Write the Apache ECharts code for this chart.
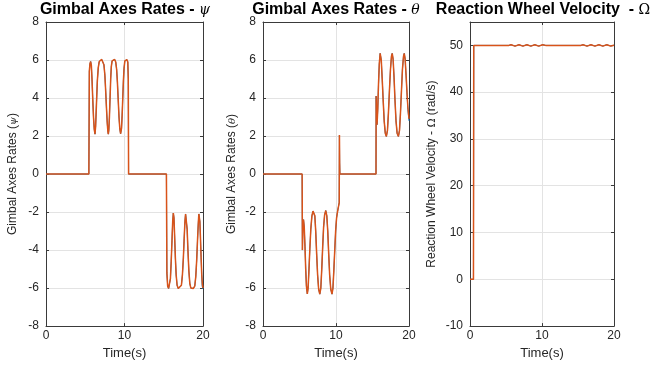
<!DOCTYPE html>
<html><head><meta charset="utf-8">
<script src="https://cdn.jsdelivr.net/npm/echarts@6/dist/echarts.min.js"></script>
<style>html,body{margin:0;padding:0;background:#fff}#c{width:670px;height:365px}</style>
</head><body><div id="c"></div>
<script>
// ---------- data ----------
const timeTicks = [0, 10, 20];
const psiTicks = [-8, -6, -4, -2, 0, 2, 4, 6, 8];
const thetaTicks = [-8, -6, -4, -2, 0, 2, 4, 6, 8];
const omegaTicks = [-10, 0, 10, 20, 30, 40, 50];

const psiOrange = [[0,0],[5.46,0],[5.52,5.4],[5.6,5.8],[5.69,5.92],[5.78,5.7],[5.86,5.0],[5.95,4.0],[6.05,3.0],[6.15,2.35],[6.24,2.1],[6.32,2.5],[6.42,3.6],[6.54,4.9],[6.66,5.6],[6.78,5.92],[6.9,6.02],[7.1,6.03],[7.25,5.98],[7.38,5.75],[7.5,5.2],[7.6,4.4],[7.7,3.5],[7.8,2.7],[7.88,2.25],[7.94,2.1],[8.0,2.3],[8.08,3.0],[8.16,4.0],[8.24,5.0],[8.32,5.65],[8.42,5.95],[8.55,6.03],[8.75,6.03],[8.88,5.9],[9.0,5.5],[9.1,4.8],[9.2,3.9],[9.3,3.0],[9.4,2.4],[9.5,2.12],[9.55,2.1],[9.62,2.4],[9.7,3.1],[9.78,4.0],[9.86,4.9],[9.94,5.55],[10.04,5.95],[10.15,6.03],[10.3,6.02],[10.42,5.9],[10.48,5.0],[10.52,0],[15.34,0],[15.4,-5.2],[15.5,-5.9],[15.62,-6.02],[15.75,-5.95],[15.85,-5.5],[15.95,-4.6],[16.05,-3.5],[16.14,-2.5],[16.22,-2.05],[16.3,-2.3],[16.38,-3.2],[16.48,-4.4],[16.58,-5.3],[16.7,-5.85],[16.85,-6.02],[17.1,-6.02],[17.25,-5.85],[17.38,-5.3],[17.5,-4.4],[17.6,-3.4],[17.7,-2.5],[17.78,-2.1],[17.84,-2.02],[17.9,-2.2],[17.98,-2.9],[18.08,-4.0],[18.2,-5.1],[18.32,-5.75],[18.45,-6.0],[18.75,-6.02],[18.95,-5.9],[19.08,-5.4],[19.2,-4.5],[19.3,-3.5],[19.4,-2.6],[19.47,-2.1],[19.52,-2.05],[19.6,-2.5],[19.68,-3.4],[19.76,-4.4],[19.84,-5.3],[19.92,-5.8],[20,-6.0]];
const psiBlue = [[0,0],[5.46,0],[5.52,5.4],[5.6,5.8],[5.69,5.92],[5.78,5.7],[5.86,5.0],[5.95,4.0],[6.05,3.0],[6.15,2.35],[6.24,2.1],[6.32,2.5],[6.42,3.6],[6.54,4.9],[6.66,5.6],[6.78,5.92],[6.9,6.02],[7.1,6.03],[7.25,5.98],[7.38,5.75],[7.5,5.2],[7.6,4.4],[7.7,3.5],[7.8,2.7],[7.88,2.25],[7.94,2.1],[8.0,2.3],[8.08,3.0],[8.16,4.0],[8.24,5.0],[8.32,5.65],[8.42,5.95],[8.55,6.03],[8.75,6.03],[8.88,5.9],[9.0,5.5],[9.1,4.8],[9.2,3.9],[9.3,3.0],[9.4,2.4],[9.5,2.12],[9.55,2.1],[9.62,2.4],[9.7,3.1],[9.78,4.0],[9.86,4.9],[9.94,5.55],[10.04,5.95],[10.15,6.03],[10.3,6.02],[10.42,5.9],[10.48,5.0],[10.52,0],[15.34,0],[15.4,-5.2],[15.5,-5.9],[15.62,-6.02],[15.75,-5.95],[15.85,-5.5],[15.95,-4.6],[16.05,-3.5],[16.14,-2.5],[16.22,-2.05],[16.3,-2.3],[16.38,-3.2],[16.48,-4.4],[16.58,-5.3],[16.7,-5.85],[16.85,-6.02],[17.1,-6.02],[17.25,-5.85],[17.38,-5.3],[17.5,-4.4],[17.6,-3.4],[17.7,-2.5],[17.78,-2.1],[17.84,-2.02],[17.9,-2.2],[17.98,-2.9],[18.08,-4.0],[18.2,-5.1],[18.32,-5.75],[18.45,-6.0],[18.75,-6.02],[18.95,-5.9],[19.08,-5.4],[19.2,-4.5],[19.3,-3.5],[19.4,-2.6],[19.47,-2.1],[19.52,-2.05],[19.6,-2.5],[19.68,-3.4],[19.76,-4.4],[19.84,-5.3],[19.9,-5.9],[19.97,-6.05],[20,-6.05]];

const thetaOrange = [[0,0],[5.36,0],[5.4,-4.0],[5.46,-2.9],[5.55,-2.4],[5.65,-2.8],[5.75,-3.8],[5.85,-5.0],[5.95,-5.9],[6.07,-6.3],[6.18,-6.0],[6.3,-5.0],[6.42,-3.9],[6.55,-2.9],[6.7,-2.2],[6.85,-1.95],[6.99,-1.92],[7.1,-2.2],[7.22,-3.0],[7.35,-4.2],[7.48,-5.3],[7.62,-6.05],[7.78,-6.32],[7.92,-6.0],[8.05,-5.0],[8.18,-3.8],[8.3,-2.8],[8.44,-2.15],[8.6,-1.92],[8.74,-2.2],[8.87,-3.0],[9.0,-4.2],[9.13,-5.3],[9.28,-6.05],[9.45,-6.32],[9.58,-6.0],[9.7,-5.1],[9.83,-4.0],[9.95,-3.0],[10.08,-2.3],[10.2,-2.0],[10.38,-1.95],[10.44,-1.5],[10.47,2.05],[10.5,0.6],[10.53,0],[15.48,0],[15.5,4.1],[15.56,3.0],[15.62,2.6],[15.72,3.4],[15.82,4.7],[15.93,5.8],[16.05,6.35],[16.2,6.0],[16.33,5.0],[16.46,3.9],[16.6,2.8],[16.75,2.15],[16.9,1.98],[17.05,2.3],[17.18,3.2],[17.32,4.4],[17.46,5.5],[17.6,6.2],[17.7,6.35],[17.82,6.05],[17.95,5.1],[18.08,3.9],[18.22,2.8],[18.37,2.15],[18.55,1.98],[18.7,2.3],[18.83,3.2],[18.97,4.4],[19.1,5.5],[19.25,6.2],[19.35,6.35],[19.47,6.05],[19.6,5.2],[19.72,4.3],[19.85,3.5],[20,2.9]];
const thetaBlue = [[0,0],[5.36,0],[5.4,-4.0],[5.46,-2.9],[5.55,-2.4],[5.65,-2.8],[5.75,-3.8],[5.85,-5.0],[5.95,-5.9],[6.07,-6.3],[6.18,-6.0],[6.3,-5.0],[6.42,-3.9],[6.55,-2.9],[6.7,-2.2],[6.85,-1.95],[6.99,-1.92],[7.1,-2.2],[7.22,-3.0],[7.35,-4.2],[7.48,-5.3],[7.62,-6.05],[7.78,-6.32],[7.92,-6.0],[8.05,-5.0],[8.18,-3.8],[8.3,-2.8],[8.44,-2.15],[8.6,-1.92],[8.74,-2.2],[8.87,-3.0],[9.0,-4.2],[9.13,-5.3],[9.28,-6.05],[9.45,-6.32],[9.58,-6.0],[9.7,-5.1],[9.83,-4.0],[9.95,-3.0],[10.08,-2.3],[10.2,-2.0],[10.38,-1.95],[10.44,-1.5],[10.47,2.05],[10.5,0.6],[10.53,0],[15.48,0],[15.5,4.1],[15.56,3.0],[15.62,2.6],[15.72,3.4],[15.82,4.7],[15.93,5.8],[16.05,6.35],[16.2,6.0],[16.33,5.0],[16.46,3.9],[16.6,2.8],[16.75,2.15],[16.9,1.98],[17.05,2.3],[17.18,3.2],[17.32,4.4],[17.46,5.5],[17.6,6.2],[17.7,6.35],[17.82,6.05],[17.95,5.1],[18.08,3.9],[18.22,2.8],[18.37,2.15],[18.55,1.98],[18.7,2.3],[18.83,3.2],[18.97,4.4],[19.1,5.5],[19.25,6.2],[19.35,6.35],[19.47,6.05],[19.6,5.2],[19.72,4.3],[19.85,3.4],[19.95,3.0],[20,2.8]];

const omegaOrange = [[0,0],[0.48,0],[0.52,50],[5.4,50],[5.7,50.15],[6.25,49.85],[6.8,50.15],[7.35,49.85],[7.9,50.15],[8.45,49.85],[9.0,50.15],[9.55,49.85],[10.1,50.15],[10.5,50],[15.4,50],[15.7,50.15],[16.25,49.85],[16.8,50.15],[17.35,49.85],[17.9,50.15],[18.45,49.85],[19.0,50.15],[19.55,49.85],[20,50.05]];
const omegaBlue = [[0,0],[0.48,0],[0.52,50],[5.4,50],[5.7,50.15],[6.25,49.85],[6.8,50.15],[7.35,49.85],[7.9,50.15],[8.45,49.85],[9.0,50.15],[9.55,49.85],[10.1,50.15],[10.5,50],[15.4,50],[15.7,50.15],[16.25,49.85],[16.8,50.15],[17.35,49.85],[17.9,50.15],[18.45,49.85],[19.0,50.15],[19.55,49.85],[20,50.05]];

// ---------- chart ----------
const BLUE = '#0072BD', ORANGE = '#D95319';
const AX = '#3a3a3a', GRID = '#e3e3e3';
const LBL = {color: '#262626', fontFamily: 'Liberation Sans, Arial, sans-serif', fontSize: 12};

const panels = [
  {left: 46, width: 157, ymax: 8, title: ['Gimbal Axes Rates - ', 'ψ', true], tx: 125,
   yname: '{a|Gimbal Axes Rates (}{s|ψ}{a|)}', ygap: 27, o: psiOrange, b: psiBlue, yt: psiTicks},
  {left: 263, width: 146, ymax: 8, title: ['Gimbal Axes Rates - ', 'θ', true], tx: 336,
   yname: '{a|Gimbal Axes Rates (}{s|θ}{a|)}', ygap: 25, o: thetaOrange, b: thetaBlue, yt: thetaTicks},
  {left: 470, width: 144, ymax: 55, title: ['Reaction Wheel Velocity  - ', 'Ω', false], tx: 543,
   yname: '{a|Reaction Wheel Velocity - }{u|Ω}{a| (rad/s)}', ygap: 32, o: omegaOrange, b: omegaBlue, yt: omegaTicks}
];

const option = {animation: false, title: [], grid: [], xAxis: [], yAxis: [], series: []};
const nameRich = {
  a: {fontFamily: 'Liberation Sans Narrow, Arial Narrow, Liberation Sans, sans-serif', fontSize: 12, color: '#262626'},
  s: {fontFamily: 'DejaVu Serif, serif', fontStyle: 'italic', fontSize: 10, color: '#262626'},
  u: {fontFamily: 'DejaVu Serif, serif', fontSize: 11, color: '#262626'}
};
panels.forEach((p, i) => {
  option.title.push({
    text: '{a|' + p.title[0] + '}{b|' + p.title[1] + '}',
    left: p.tx, top: 2, textAlign: 'center', padding: 0,
    textStyle: {rich: {
      a: {fontFamily: 'Liberation Sans, Arial, sans-serif', fontWeight: 'bold', fontSize: 16, color: '#000'},
      b: {fontFamily: 'DejaVu Serif, serif', fontStyle: p.title[2] ? 'italic' : 'normal', fontWeight: 'normal', fontSize: 14, color: '#000'}
    }}
  });
  option.grid.push({left: p.left, width: p.width, top: 22, height: 308});
  const xi = option.xAxis.length, yi = option.yAxis.length;
  const xCommon = {
    type: 'value', gridIndex: i, min: timeTicks[0], max: timeTicks[timeTicks.length - 1], interval: timeTicks[1] - timeTicks[0],
    axisLine: {show: true, onZero: false, lineStyle: {color: AX, width: 1}},
    axisTick: {show: true, inside: true, length: 3, lineStyle: {color: AX}}
  };
  option.xAxis.push(Object.assign({}, xCommon, {
    position: 'bottom',
    name: 'Time(s)', nameLocation: 'middle', nameGap: 17,
    nameTextStyle: {color: '#262626', fontFamily: 'Liberation Sans, Arial, sans-serif', fontSize: 13},
    axisLabel: Object.assign({margin: 4}, LBL),
    splitLine: {show: true, lineStyle: {color: GRID, width: 1}}
  }), Object.assign({}, xCommon, {
    position: 'top', axisLabel: {show: false}, splitLine: {show: false}
  }));
  const yCommon = {
    type: 'value', gridIndex: i, min: p.yt[0], max: p.ymax, interval: p.yt[1] - p.yt[0],
    axisLine: {show: true, onZero: false, lineStyle: {color: AX, width: 1}},
    axisTick: {show: true, inside: true, length: 3, lineStyle: {color: AX}}
  };
  option.yAxis.push(Object.assign({}, yCommon, {
    position: 'left',
    name: p.yname, nameLocation: 'middle', nameGap: p.ygap, nameRotate: 90,
    nameTextStyle: {rich: nameRich},
    axisLabel: Object.assign({margin: 7, showMaxLabel: i !== 2}, LBL),
    splitLine: {show: true, lineStyle: {color: GRID, width: 1}}
  }), Object.assign({}, yCommon, {
    position: 'right', axisLabel: {show: false}, splitLine: {show: false}
  }));
  option.series.push({
    type: 'line', xAxisIndex: xi, yAxisIndex: yi, data: p.b, showSymbol: false, symbol: 'none',
    lineStyle: {color: BLUE, width: 1.0}, z: 2
  }, {
    type: 'line', xAxisIndex: xi, yAxisIndex: yi, data: p.o, showSymbol: false, symbol: 'none',
    lineStyle: {color: ORANGE, width: 1.5}, z: 3
  });
});
const chart = echarts.init(document.getElementById('c'), null, {renderer: 'canvas'});
chart.setOption(option);
</script></body></html>
